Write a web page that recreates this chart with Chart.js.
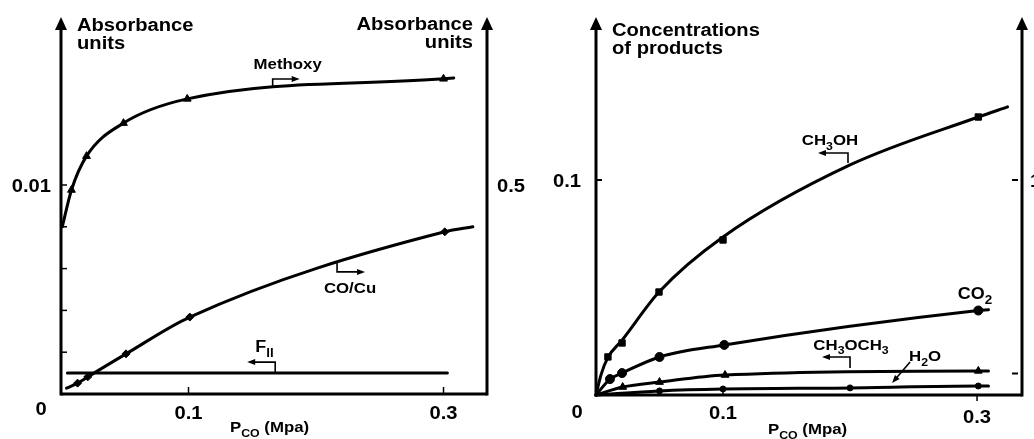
<!DOCTYPE html>
<html>
<head>
<meta charset="utf-8">
<script src="https://cdn.jsdelivr.net/npm/chart.js@4.4.1/dist/chart.umd.min.js"></script>
<style>
  html, body { margin: 0; padding: 0; background: #fff; }
  #wrap { position: relative; width: 1034px; height: 439px; overflow: hidden; }
  .pane { position: absolute; top: 0; height: 439px; }
</style>
</head>
<body>
<div id="wrap">
  <div class="pane" style="left:0;width:535px"><canvas id="left" width="535" height="439"></canvas></div>
  <div class="pane" style="left:535px;width:499px"><canvas id="right" width="499" height="439"></canvas></div>
</div>
<script>
// ---- left panel : IR absorbance vs P_CO (MPa) ----
// methoxy + CO/Cu read on the right axis (0..0.5 units), F_ll on the left one
const methoxyP = [0.0082, 0.020, 0.049, 0.099, 0.300];
const methoxyA = [0.488, 0.569, 0.648, 0.706, 0.754];
const methoxyEnds = [[0.001, 0.40], [0.308, 0.756]];

const cocuP = [0.013, 0.021, 0.051, 0.101, 0.301];
const cocuA = [0.026, 0.041, 0.096, 0.184, 0.388];
const cocuEnds = [[0.0043, 0.014], [0.323, 0.40]];

const filP = [0.005, 0.303];
const filA = [0.001, 0.001];

const leftTicksA = [0.002, 0.004, 0.006, 0.008, 0.01];
const xTicks = [0.1, 0.3];

// ---- right panel : concentrations of products ----
const ch3ohP = [0.0094, 0.0205, 0.0496, 0.100, 0.301];
const ch3ohC = [0.0177, 0.0242, 0.0479, 0.0721, 0.1293];
// the drawn CH3OH curve does not go through every square, read it on its own
const ch3ohCurveP = [0, 0.004, 0.0094, 0.0205, 0.0496, 0.100, 0.200, 0.301, 0.324];
const ch3ohCurveC = [0, 0.0095, 0.0175, 0.0255, 0.0479, 0.0735, 0.107, 0.1293, 0.134];

const co2P = [0.011, 0.0205, 0.050, 0.101, 0.301];
const co2C = [0.0074, 0.0102, 0.0177, 0.0233, 0.0393];
const co2Ends = [[0, 0], [0.309, 0.0397]];

const dmeP = [0.021, 0.050, 0.1016, 0.301];
const dmeC = [0.0037, 0.0060, 0.0093, 0.0112];
const dmeEnds = [[0, 0], [0.309, 0.0112]];

const h2oP = [0.050, 0.100, 0.200, 0.301];
const h2oC = [0.0019, 0.0028, 0.0033, 0.0042];
const h2oEnds = [[0, 0], [0.309, 0.0042]];

const rightTicksC = [0.01, 0.1];

const FONT = '"Liberation Sans", Arial, sans-serif';
const HS = 1.12; // the scanned figure is stretched sideways

function pts(P, V) { return P.map((p, i) => ({ x: p, y: V[i] })); }

function curve(P, V, ends, axis) {
  const d = pts(P, V);
  if (ends) {
    d.unshift({ x: ends[0][0], y: ends[0][1] });
    d.push({ x: ends[1][0], y: ends[1][1] });
  }
  return {
    data: d, yAxisID: axis, showLine: true, borderColor: '#000', borderWidth: 3,
    pointRadius: 0, cubicInterpolationMode: 'monotone', clip: false
  };
}

function marks(P, V, style, r, axis) {
  return {
    data: pts(P, V), yAxisID: axis, showLine: false, pointStyle: style, pointRadius: r,
    backgroundColor: '#000', borderColor: '#000', borderWidth: 1, clip: false
  };
}

// text with optional subscripts, parts = [[str, isSub], ...], y is the baseline
function txt(ctx, parts, x, y, size, align) {
  ctx.save();
  ctx.fillStyle = '#000';
  ctx.textBaseline = 'alphabetic';
  const fonts = parts.map(p => `bold ${p[1] ? Math.round(size * 0.72) : size}px ${FONT}`);
  let w = 0;
  parts.forEach((p, i) => { ctx.font = fonts[i]; w += ctx.measureText(p[0]).width; });
  let x0 = align === 'left' ? 0 : align === 'right' ? -w : -w / 2;
  ctx.translate(x, y);
  ctx.scale(HS, 1);
  parts.forEach((p, i) => {
    ctx.font = fonts[i];
    ctx.fillText(p[0], x0, p[1] ? size * 0.3 : 0);
    x0 += ctx.measureText(p[0]).width;
  });
  ctx.restore();
}

function arrowHead(ctx, x, y, dx, dy, len, half) {
  const n = Math.hypot(dx, dy), ux = dx / n, uy = dy / n;
  ctx.beginPath();
  ctx.moveTo(x, y);
  ctx.lineTo(x - ux * len - uy * half, y - uy * len + ux * half);
  ctx.lineTo(x - ux * len + uy * half, y - uy * len - ux * half);
  ctx.closePath();
  ctx.fill();
}

function axisArrow(ctx, x, yBottom) {
  ctx.beginPath();
  ctx.moveTo(x, yBottom + 1.5);
  ctx.lineTo(x, 28);
  ctx.stroke();
  arrowHead(ctx, x, 17, 0, -1, 13, 6);
}

// little bracket pointing from a curve to its axis
function bracket(ctx, x, y, v, h) {
  ctx.save();
  ctx.lineWidth = 1.6;
  ctx.beginPath();
  ctx.moveTo(x, y);
  ctx.lineTo(x, y + v);
  ctx.lineTo(x + h - Math.sign(h) * 5, y + v);
  ctx.stroke();
  arrowHead(ctx, x + h, y + v, h, 0, 8, 3);
  ctx.restore();
}

function frame(ctx, a) {
  ctx.save();
  ctx.strokeStyle = '#000';
  ctx.fillStyle = '#000';
  ctx.lineWidth = 3;
  axisArrow(ctx, a.left, a.bottom);
  axisArrow(ctx, a.right, a.bottom);
  ctx.beginPath();
  ctx.moveTo(a.left, a.bottom);
  ctx.lineTo(a.right, a.bottom);
  ctx.stroke();
  ctx.restore();
}

const leftDecor = {
  id: 'leftDecor',
  afterDraw(chart) {
    const ctx = chart.ctx, a = chart.chartArea;
    const x = chart.scales.x, y = chart.scales.y, y2 = chart.scales.y2;
    frame(ctx, a);
    ctx.save();
    ctx.strokeStyle = '#000';
    ctx.fillStyle = '#000';
    ctx.lineWidth = 1.5;
    leftTicksA.forEach(v => {
      const py = y.getPixelForValue(v);
      ctx.beginPath(); ctx.moveTo(a.left, py); ctx.lineTo(a.left + 6, py); ctx.stroke();
    });
    xTicks.forEach(v => {
      const px = x.getPixelForValue(v);
      ctx.beginPath(); ctx.moveTo(px, a.bottom); ctx.lineTo(px, a.bottom - 7); ctx.stroke();
    });

    txt(ctx, [['Absorbance']], a.left + 16, 31, 18, 'left');
    txt(ctx, [['units']], a.left + 16, 49, 18, 'left');
    txt(ctx, [['Absorbance']], a.right - 14, 30, 18, 'right');
    txt(ctx, [['units']], a.right - 14, 48, 18, 'right');

    txt(ctx, [['0.01']], a.left - 10, y.getPixelForValue(0.01) + 7, 18, 'right');
    txt(ctx, [['0.5']], a.right + 10, y2.getPixelForValue(0.5) + 7, 18, 'left');
    txt(ctx, [['0']], a.left - 20, a.bottom + 21, 18, 'center');
    xTicks.forEach(v => txt(ctx, [[String(v)]], x.getPixelForValue(v), a.bottom + 25, 18, 'center'));
    txt(ctx, [['P'], ['CO', 1], [' (Mpa)']], 230, a.bottom + 38, 15, 'left');

    // series labels
    let px = x.getPixelForValue(0.166), py = y2.getPixelForValue(0.732);
    bracket(ctx, px, py, -9, 27);
    txt(ctx, [['Methoxy']], px + 15, py - 19, 15, 'center');

    px = x.getPixelForValue(0.2165); py = y2.getPixelForValue(0.316);
    bracket(ctx, px, py, 10, 28);
    txt(ctx, [['CO/Cu']], px + 13, py + 31, 15, 'center');

    px = x.getPixelForValue(0.168); py = y.getPixelForValue(0.001);
    bracket(ctx, px, py, -11, -28);
    txt(ctx, [['F'], ['ll', 1]], px - 20, py - 21, 16, 'left');
    ctx.restore();
  }
};

const rightDecor = {
  id: 'rightDecor',
  afterDraw(chart) {
    const ctx = chart.ctx, a = chart.chartArea;
    const x = chart.scales.x, y = chart.scales.y;
    frame(ctx, a);
    ctx.save();
    ctx.strokeStyle = '#000';
    ctx.fillStyle = '#000';
    ctx.lineWidth = 2;
    let py = y.getPixelForValue(0.1);
    ctx.beginPath(); ctx.moveTo(a.left, py); ctx.lineTo(a.left + 6, py); ctx.stroke();
    rightTicksC.forEach(v => {
      const q = y.getPixelForValue(v);
      ctx.beginPath(); ctx.moveTo(a.right - 10, q); ctx.lineTo(a.right - 4, q); ctx.stroke();
    });
    ctx.lineWidth = 1.5;
    let px = x.getPixelForValue(0.1);
    ctx.beginPath(); ctx.moveTo(px, a.bottom); ctx.lineTo(px, a.bottom - 8); ctx.stroke();
    px = x.getPixelForValue(0.3);
    ctx.beginPath(); ctx.moveTo(px, a.bottom); ctx.lineTo(px, a.bottom + 6); ctx.stroke();

    txt(ctx, [['Concentrations']], a.left + 16, 36, 18, 'left');
    txt(ctx, [['of products']], a.left + 16, 54, 18, 'left');

    txt(ctx, [['0.1']], a.left - 15, y.getPixelForValue(0.1) + 7, 18, 'right');
    txt(ctx, [['1']], a.right + 8, y.getPixelForValue(0.1) + 7, 18, 'left');
    txt(ctx, [['0']], a.left - 19, a.bottom + 23, 18, 'center');
    txt(ctx, [['0.1']], x.getPixelForValue(0.1), a.bottom + 24, 18, 'center');
    txt(ctx, [['0.3']], x.getPixelForValue(0.3), a.bottom + 28, 18, 'center');
    txt(ctx, [['P'], ['CO', 1], [' (Mpa)']], 768 - 535, a.bottom + 39, 15, 'left');

    px = x.getPixelForValue(0.1984); py = y.getPixelForValue(0.1079);
    bracket(ctx, px, py, -10, -30);
    txt(ctx, [['CH'], ['3', 1], ['OH']], px - 18, py - 18, 15, 'center');

    txt(ctx, [['CO'], ['2', 1]], x.getPixelForValue(0.2984), y.getPixelForValue(0.0447), 16, 'center');

    px = x.getPixelForValue(0.2); py = y.getPixelForValue(0.01256);
    bracket(ctx, px, py, -11, -28);
    txt(ctx, [['CH'], ['3', 1], ['OCH'], ['3', 1]], px + 1, py - 18, 15, 'center');

    px = x.getPixelForValue(0.2331); py = y.getPixelForValue(0.00558);
    ctx.lineWidth = 1.6;
    ctx.beginPath(); ctx.moveTo(px + 18, py - 21); ctx.lineTo(px + 3, py - 3.5); ctx.stroke();
    arrowHead(ctx, px, py, -18, 21, 8, 3);
    txt(ctx, [['H'], ['2', 1], ['O']], px + 33, py - 22, 15, 'center');
    ctx.restore();
  }
};

const common = {
  responsive: false,
  animation: false,
  plugins: { legend: { display: false }, tooltip: { enabled: false } },
  elements: { line: { borderCapStyle: 'round' } }
};

new Chart(document.getElementById('left').getContext('2d'), {
  type: 'scatter',
  data: {
    datasets: [
      curve(methoxyP, methoxyA, methoxyEnds, 'y2'),
      marks(methoxyP, methoxyA, 'triangle', 4.5, 'y2'),
      curve(cocuP, cocuA, cocuEnds, 'y2'),
      marks(cocuP, cocuA, 'rectRot', 4, 'y2'),
      curve(filP, filA, null, 'y')
    ]
  },
  options: {
    ...common,
    layout: { padding: { left: 61, right: 48, top: 30, bottom: 45 } },
    scales: {
      x: { type: 'linear', min: 0, max: 0.3341, display: false },
      y: { type: 'linear', min: 0, max: 0.017416, display: false },
      y2: { type: 'linear', min: 0, max: 0.8708, display: false }
    }
  },
  plugins: [leftDecor]
});

new Chart(document.getElementById('right').getContext('2d'), {
  type: 'scatter',
  data: {
    datasets: [
      curve(ch3ohCurveP, ch3ohCurveC, null, 'y'),
      marks(ch3ohP, ch3ohC, 'rect', 4.5, 'y'),
      curve(co2P, co2C, co2Ends, 'y'),
      marks(co2P, co2C, 'circle', 4.5, 'y'),
      curve(dmeP, dmeC, dmeEnds, 'y'),
      marks(dmeP, dmeC, 'triangle', 4.5, 'y'),
      curve(h2oP, h2oC, h2oEnds, 'y'),
      marks(h2oP, h2oC, 'circle', 3, 'y')
    ]
  },
  options: {
    ...common,
    layout: { padding: { left: 61, right: 12, top: 30, bottom: 44 } },
    scales: {
      x: { type: 'linear', min: 0, max: 0.3354, display: false },
      y: { type: 'linear', min: 0, max: 0.16977, display: false }
    }
  },
  plugins: [rightDecor]
});
</script>
</body>
</html>
